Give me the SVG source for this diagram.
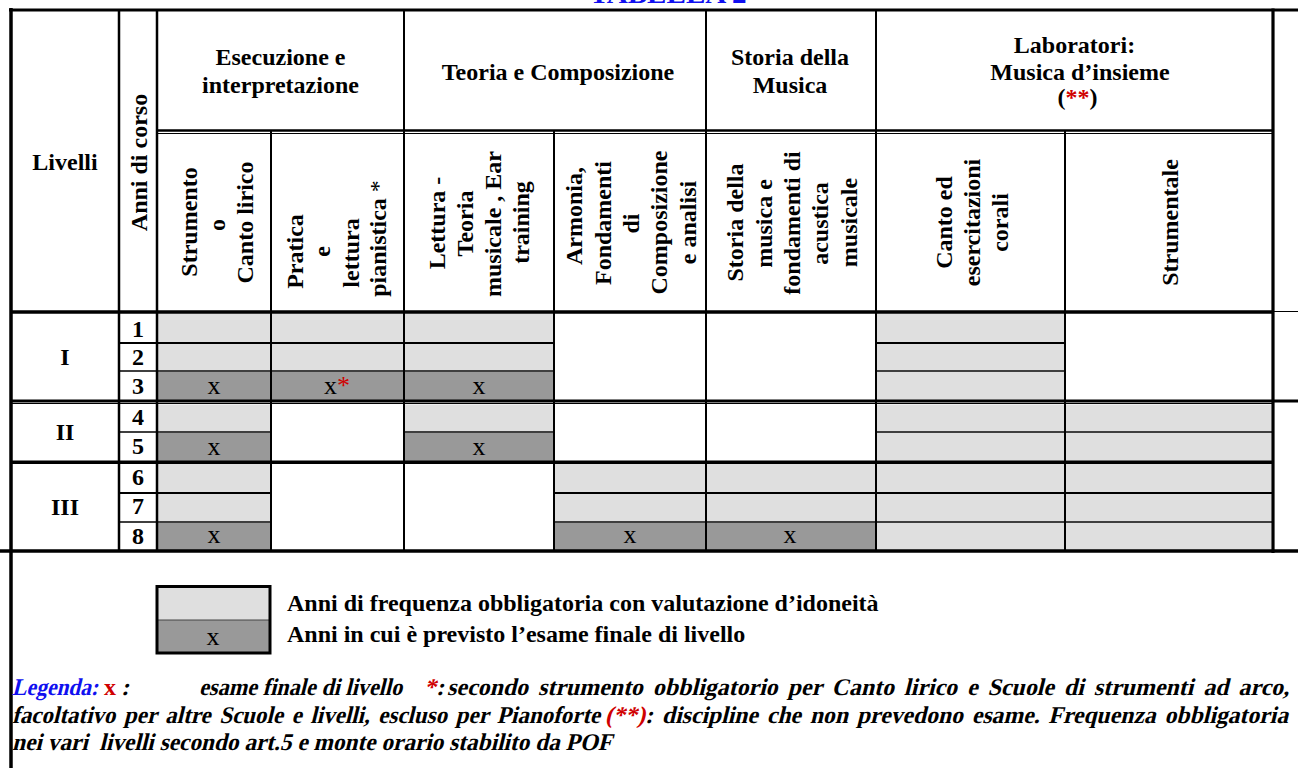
<svg xmlns="http://www.w3.org/2000/svg" width="1298" height="768" viewBox="0 0 1298 768">
<style>
text{font-family:"Liberation Serif","Times New Roman",serif;fill:#000}
.h{font-size:24px;font-weight:bold;text-anchor:middle}
.n{font-size:24px;font-weight:bold;text-anchor:middle}
.x{font-size:26px;text-anchor:middle}
.lg{font-size:24px;font-weight:bold}
.it{font-size:24px;font-weight:bold}
.red{fill:#d00000}
.blue{fill:#1010f0}
.L{fill:#dfdfdf}
.D{fill:#999999}
.k{stroke:#000;fill:none}
.t1{stroke-width:1.3}
.t2{stroke-width:2}
.t3{stroke-width:3.2}
</style>
<rect width="1298" height="768" fill="#fff"/>
<text id="title" x="668" y="3" class="h blue" style="font-size:28px" textLength="157" lengthAdjust="spacingAndGlyphs">TABELLA 2</text>

<g id="cells">
<!-- Strumento -->
<rect class="L" x="158" y="313.5" width="112" height="28.5"/>
<rect class="L" x="158" y="344" width="112" height="26"/>
<rect class="D" x="158" y="372" width="112" height="28"/>
<rect class="L" x="158" y="404.5" width="112" height="26.5"/>
<rect class="D" x="158" y="433" width="112" height="28"/>
<rect class="L" x="158" y="463.5" width="112" height="28.5"/>
<rect class="L" x="158" y="494" width="112" height="27"/>
<rect class="D" x="158" y="523" width="112" height="27"/>
<!-- Pratica -->
<rect class="L" x="272" y="313.5" width="131" height="28.5"/>
<rect class="L" x="272" y="344" width="131" height="26"/>
<rect class="D" x="272" y="372" width="131" height="28"/>
<!-- Lettura -->
<rect class="L" x="405" y="313.5" width="148" height="28.5"/>
<rect class="L" x="405" y="344" width="148" height="26"/>
<rect class="D" x="405" y="372" width="148" height="28"/>
<rect class="L" x="405" y="404.5" width="148" height="26.5"/>
<rect class="D" x="405" y="433" width="148" height="28"/>
<!-- Armonia -->
<rect class="L" x="555" y="463.5" width="150" height="28.5"/>
<rect class="L" x="555" y="494" width="150" height="27"/>
<rect class="D" x="555" y="523" width="150" height="27"/>
<!-- Storia -->
<rect class="L" x="707" y="463.5" width="168" height="28.5"/>
<rect class="L" x="707" y="494" width="168" height="27"/>
<rect class="D" x="707" y="523" width="168" height="27"/>
<!-- Canto -->
<rect class="L" x="877" y="313.5" width="187" height="28.5"/>
<rect class="L" x="877" y="344" width="187" height="26"/>
<rect class="L" x="877" y="372" width="187" height="28"/>
<rect class="L" x="877" y="404.5" width="187" height="26.5"/>
<rect class="L" x="877" y="433" width="187" height="28"/>
<rect class="L" x="877" y="463.5" width="187" height="28.5"/>
<rect class="L" x="877" y="494" width="187" height="27"/>
<rect class="L" x="877" y="523" width="187" height="27"/>
<!-- Strumentale -->
<rect class="L" x="1066" y="404.5" width="205" height="26.5"/>
<rect class="L" x="1066" y="433" width="205" height="28"/>
<rect class="L" x="1066" y="463.5" width="205" height="28.5"/>
<rect class="L" x="1066" y="494" width="205" height="27"/>
<rect class="L" x="1066" y="523" width="205" height="27"/>
</g>

<g id="grid">
<line class="k t3" x1="9" y1="10" x2="1298" y2="10"/>
<line class="k" stroke-width="3.5" x1="11" y1="8" x2="11" y2="768"/>
<line class="k t3" x1="1273" y1="8.5" x2="1273" y2="553"/>
<line class="k" stroke-width="3.5" x1="0" y1="551" x2="1298" y2="551"/>
<line class="k" stroke-width="2.5" x1="157" y1="130.5" x2="1273" y2="130.5"/>
<line class="k" stroke-width="1" x1="157" y1="133.5" x2="1273" y2="133.5"/>
<line class="k" stroke-width="3.5" x1="11" y1="312" x2="1273" y2="312"/>
<line class="k" stroke-width="1" x1="1273" y1="311.5" x2="1298" y2="311.5"/>
<line class="k t3" x1="11" y1="401" x2="1298" y2="401"/>
<line class="k" stroke-width="1" x1="11" y1="403.5" x2="1273" y2="403.5"/>
<line class="k" stroke-width="3.5" x1="11" y1="462.3" x2="1273" y2="462.3"/>
<!-- verticals -->
<line class="k" stroke-width="2.5" x1="119" y1="10" x2="119" y2="551"/>
<line class="k" stroke-width="2.5" x1="157" y1="10" x2="157" y2="551"/>
<line class="k t2" x1="271" y1="131" x2="271" y2="551"/>
<line class="k t2" x1="404" y1="10" x2="404" y2="551"/>
<line class="k t2" x1="554" y1="131" x2="554" y2="551"/>
<line class="k t2" x1="706" y1="10" x2="706" y2="551"/>
<line class="k t2" x1="876" y1="10" x2="876" y2="551"/>
<line class="k t2" x1="1065" y1="131" x2="1065" y2="551"/>
<!-- row lines -->
<path class="k t2" d="M119 343H554M876 343H1065"/>
<path class="k t1" d="M119 371H554M876 371H1065"/>
<path class="k t1" d="M119 432H271M404 432H554M876 432H1273"/>
<path class="k t2" d="M119 493H271M554 493H1273"/>
<path class="k t1" d="M119 522H271M554 522H1273"/>
</g>

<g id="header-livelli"><text class="h" x="65" y="170">Livelli</text></g>
<g id="header-anni"><text class="h" transform="translate(146.5,162.5) rotate(-90)">Anni di corso</text></g>
<g id="header-esecuzione">
<text class="h" x="280.5" y="65">Esecuzione e</text>
<text class="h" x="280.5" y="93">interpretazione</text>
</g>
<g id="header-teoria"><text class="h" x="558" y="80">Teoria e Composizione</text></g>
<g id="header-storia">
<text class="h" x="790" y="65">Storia della</text>
<text class="h" x="790" y="93">Musica</text>
</g>
<g id="header-laboratori">
<text class="h" x="1074.5" y="53">Laboratori:</text>
<text class="h" x="1080" y="80">Musica d’insieme</text>
<text class="h" x="1077.5" y="105">(<tspan class="red">**</tspan>)</text>
</g>

<g id="sub-strumento">
<text class="h" transform="translate(196.5,222) rotate(-90)">Strumento</text>
<text class="h" transform="translate(224.5,225) rotate(-90)">o</text>
<text class="h" transform="translate(252.5,222.5) rotate(-90)">Canto lirico</text>
</g>
<g id="sub-pratica">
<text class="h" transform="translate(303,251.5) rotate(-90)">Pratica</text>
<text class="h" transform="translate(330,251.5) rotate(-90)">e</text>
<text class="h" transform="translate(359,253) rotate(-90)">lettura</text>
<text class="h" transform="translate(386,238.5) rotate(-90)">pianistica <tspan font-weight="normal">*</tspan></text>
</g>
<g id="sub-lettura">
<text class="h" transform="translate(445,223) rotate(-90)">Lettura -</text>
<text class="h" transform="translate(473,223.5) rotate(-90)">Teoria</text>
<text class="h" transform="translate(501,224) rotate(-90)">musicale , Ear</text>
<text class="h" transform="translate(529,222.5) rotate(-90)">training</text>
</g>
<g id="sub-armonia">
<text class="h" transform="translate(582,216) rotate(-90)">Armonia,</text>
<text class="h" transform="translate(610.5,223) rotate(-90)">Fondamenti</text>
<text class="h" transform="translate(639,223.5) rotate(-90)">di</text>
<text class="h" transform="translate(667,222.5) rotate(-90)">Composizione</text>
<text class="h" transform="translate(695.5,222.5) rotate(-90)">e analisi</text>
</g>
<g id="sub-storia">
<text class="h" transform="translate(743,222.5) rotate(-90)">Storia della</text>
<text class="h" transform="translate(771.5,223.5) rotate(-90)">musica e</text>
<text class="h" transform="translate(800,223) rotate(-90)">fondamenti di</text>
<text class="h" transform="translate(828,223.5) rotate(-90)">acustica</text>
<text class="h" transform="translate(856.5,222.5) rotate(-90)">musicale</text>
</g>
<g id="sub-canto">
<text class="h" transform="translate(952,222.5) rotate(-90)">Canto ed</text>
<text class="h" transform="translate(980,222.5) rotate(-90)">esercitazioni</text>
<text class="h" transform="translate(1008,222.5) rotate(-90)">corali</text>
</g>
<g id="sub-strumentale"><text class="h" transform="translate(1178,222.5) rotate(-90)">Strumentale</text></g>

<g id="levels">
<text class="n" x="65" y="365">I</text>
<text class="n" x="65" y="440">II</text>
<text class="n" x="65" y="515">III</text>
</g>
<g id="years">
<text class="n" x="138" y="337">1</text>
<text class="n" x="138" y="365">2</text>
<text class="n" x="138" y="394">3</text>
<text class="n" x="138" y="425">4</text>
<text class="n" x="138" y="454">5</text>
<text class="n" x="138" y="485">6</text>
<text class="n" x="138" y="514">7</text>
<text class="n" x="138" y="544">8</text>
</g>
<g id="exams">
<text class="x" x="214" y="394">x</text>
<text class="x" x="337" y="394">x<tspan class="red">*</tspan></text>
<text class="x" x="479" y="394">x</text>
<text class="x" x="214" y="455">x</text>
<text class="x" x="479" y="455">x</text>
<text class="x" x="214" y="543">x</text>
<text class="x" x="630" y="543">x</text>
<text class="x" x="790" y="543">x</text>
</g>

<g id="legend-box">
<rect class="L" x="157" y="587" width="112" height="33"/>
<rect class="D" x="157" y="620" width="112" height="32"/>
<line stroke="#444" stroke-width="1" x1="157" y1="620" x2="269" y2="620"/>
<rect x="157" y="586.5" width="113" height="66.5" fill="none" stroke="#000" stroke-width="3"/>
<text class="x" x="213" y="645">x</text>
<text class="lg" x="287" y="611">Anni di frequenza obbligatoria con valutazione d’idoneità</text>
<text class="lg" x="287" y="642">Anni in cui è previsto l’esame finale di livello</text>
</g>

<g id="legend-notes">
<text class="it blue" transform="translate(12,695) skewX(-14)" textLength="86" lengthAdjust="spacingAndGlyphs">Legenda:</text>
<text class="it red" transform="translate(104,695)">x</text>
<text class="it" font-weight="normal" transform="translate(121,695) skewX(-14)">:</text>
<text class="it" transform="translate(199,695) skewX(-14)" textLength="203" lengthAdjust="spacingAndGlyphs">esame finale di livello</text>
<text class="it" font-weight="normal" transform="translate(424,695) skewX(-14)"><tspan class="red">*</tspan>:</text>
<text class="it" transform="translate(447,695) skewX(-14)" word-spacing="4" textLength="842" lengthAdjust="spacingAndGlyphs">secondo strumento obbligatorio per Canto lirico e Scuole di strumenti ad arco,</text>
<text class="it" transform="translate(12,723) skewX(-14)" word-spacing="3" textLength="588" lengthAdjust="spacingAndGlyphs">facoltativo per altre Scuole e livelli, escluso per Pianoforte</text>
<text class="it red" font-weight="normal" transform="translate(605,723) skewX(-14)">(**)</text>
<text class="it" transform="translate(645,723) skewX(-14)" word-spacing="3" textLength="643" lengthAdjust="spacingAndGlyphs">: discipline che non prevedono esame. Frequenza obbligatoria</text>
<text class="it" transform="translate(12,750) skewX(-14)" xml:space="preserve" textLength="600" lengthAdjust="spacingAndGlyphs">nei vari  livelli secondo art.5 e monte orario stabilito da POF</text>
</g>
</svg>
